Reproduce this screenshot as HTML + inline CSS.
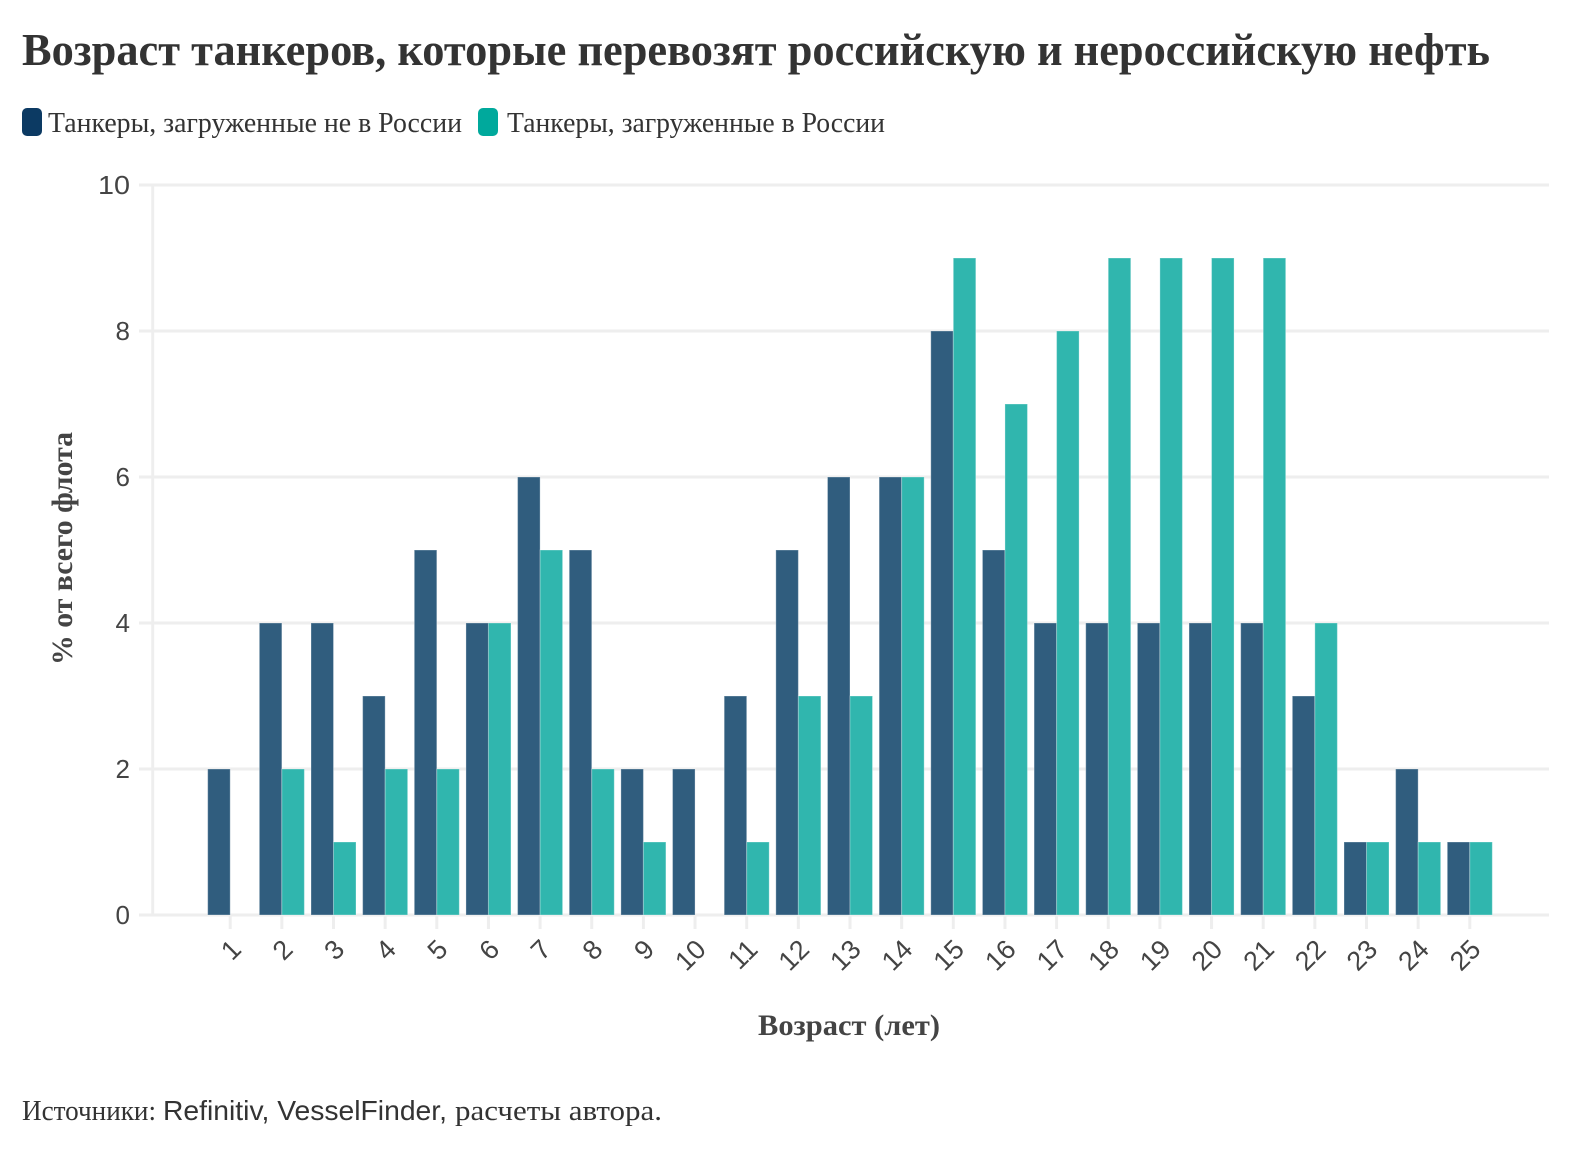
<!DOCTYPE html>
<html>
<head>
<meta charset="utf-8">
<style>
  html, body { margin: 0; padding: 0; background: #ffffff; }
  body { width: 1590px; height: 1150px; overflow: hidden; }
  svg { display: block; }
  .serif { font-family: "Liberation Serif", "Noto Serif CJK SC", serif; }
  .sans { font-family: "Liberation Sans", "DejaVu Sans", sans-serif; }
</style>
</head>
<body>
<svg width="1590" height="1150" viewBox="0 0 1590 1150" xmlns="http://www.w3.org/2000/svg">
  <rect x="0" y="0" width="1590" height="1150" fill="#ffffff"/>

  <!-- Title -->
  <text class="serif" x="22" y="65" font-size="45" font-weight="bold" fill="#333333" textLength="1468" lengthAdjust="spacingAndGlyphs">Возраст танкеров, которые перевозят российскую и нероссийскую нефть</text>

  <!-- Legend -->
  <rect x="22" y="108" width="20" height="28" rx="5" ry="5" fill="#0c3a63"/>
  <text class="serif" x="48" y="132" font-size="28" fill="#333333" textLength="414" lengthAdjust="spacingAndGlyphs">Танкеры, загруженные не в России</text>
  <rect x="478" y="108" width="20" height="28" rx="5" ry="5" fill="#00a99c"/>
  <text class="serif" x="507" y="132" font-size="28" fill="#333333" textLength="378" lengthAdjust="spacingAndGlyphs">Танкеры, загруженные в России</text>

  <!-- Gridlines -->
  <g stroke="#eeeeee" stroke-width="3">
    <line x1="139" y1="185" x2="1549" y2="185"/>
    <line x1="139" y1="331" x2="1549" y2="331"/>
    <line x1="139" y1="477" x2="1549" y2="477"/>
    <line x1="139" y1="623" x2="1549" y2="623"/>
    <line x1="139" y1="769" x2="1549" y2="769"/>
    <line x1="139" y1="915" x2="1549" y2="915"/>
    <line x1="152.7" y1="185" x2="152.7" y2="915"/>
  </g>

  <!-- Y tick labels -->
  <g class="sans" font-size="26" fill="#444444" text-anchor="end">
    <text x="130" y="194" textLength="32" lengthAdjust="spacingAndGlyphs">10</text>
    <text x="130" y="340">8</text>
    <text x="130" y="486">6</text>
    <text x="130" y="632">4</text>
    <text x="130" y="778">2</text>
    <text x="130" y="924">0</text>
  </g>

  <!-- X tick marks -->
  <g stroke="#eeeeee" stroke-width="3">
    <line x1="230.2" y1="915" x2="230.2" y2="929"/>
    <line x1="281.85" y1="915" x2="281.85" y2="929"/>
    <line x1="333.5" y1="915" x2="333.5" y2="929"/>
    <line x1="385.15" y1="915" x2="385.15" y2="929"/>
    <line x1="436.8" y1="915" x2="436.8" y2="929"/>
    <line x1="488.45" y1="915" x2="488.45" y2="929"/>
    <line x1="540.1" y1="915" x2="540.1" y2="929"/>
    <line x1="591.75" y1="915" x2="591.75" y2="929"/>
    <line x1="643.4" y1="915" x2="643.4" y2="929"/>
    <line x1="695.05" y1="915" x2="695.05" y2="929"/>
    <line x1="746.7" y1="915" x2="746.7" y2="929"/>
    <line x1="798.35" y1="915" x2="798.35" y2="929"/>
    <line x1="850" y1="915" x2="850" y2="929"/>
    <line x1="901.65" y1="915" x2="901.65" y2="929"/>
    <line x1="953.3" y1="915" x2="953.3" y2="929"/>
    <line x1="1004.95" y1="915" x2="1004.95" y2="929"/>
    <line x1="1056.6" y1="915" x2="1056.6" y2="929"/>
    <line x1="1108.25" y1="915" x2="1108.25" y2="929"/>
    <line x1="1159.9" y1="915" x2="1159.9" y2="929"/>
    <line x1="1211.55" y1="915" x2="1211.55" y2="929"/>
    <line x1="1263.2" y1="915" x2="1263.2" y2="929"/>
    <line x1="1314.85" y1="915" x2="1314.85" y2="929"/>
    <line x1="1366.5" y1="915" x2="1366.5" y2="929"/>
    <line x1="1418.15" y1="915" x2="1418.15" y2="929"/>
    <line x1="1469.8" y1="915" x2="1469.8" y2="929"/>
  </g>

  <!-- Bars: non-Russia (dark) -->
  <g fill="#305d7e" stroke="rgba(255,255,255,0.3)" stroke-width="1">
    <rect x="207.7" y="769" width="22.5" height="146"/>
    <rect x="259.35" y="623" width="22.5" height="292"/>
    <rect x="311" y="623" width="22.5" height="292"/>
    <rect x="362.65" y="696" width="22.5" height="219"/>
    <rect x="414.3" y="550" width="22.5" height="365"/>
    <rect x="465.95" y="623" width="22.5" height="292"/>
    <rect x="517.6" y="477" width="22.5" height="438"/>
    <rect x="569.25" y="550" width="22.5" height="365"/>
    <rect x="620.9" y="769" width="22.5" height="146"/>
    <rect x="672.55" y="769" width="22.5" height="146"/>
    <rect x="724.2" y="696" width="22.5" height="219"/>
    <rect x="775.85" y="550" width="22.5" height="365"/>
    <rect x="827.5" y="477" width="22.5" height="438"/>
    <rect x="879.15" y="477" width="22.5" height="438"/>
    <rect x="930.8" y="331" width="22.5" height="584"/>
    <rect x="982.45" y="550" width="22.5" height="365"/>
    <rect x="1034.1" y="623" width="22.5" height="292"/>
    <rect x="1085.75" y="623" width="22.5" height="292"/>
    <rect x="1137.4" y="623" width="22.5" height="292"/>
    <rect x="1189.05" y="623" width="22.5" height="292"/>
    <rect x="1240.7" y="623" width="22.5" height="292"/>
    <rect x="1292.35" y="696" width="22.5" height="219"/>
    <rect x="1344" y="842" width="22.5" height="73"/>
    <rect x="1395.65" y="769" width="22.5" height="146"/>
    <rect x="1447.3" y="842" width="22.5" height="73"/>
  </g>

  <!-- Bars: Russia (teal) -->
  <g fill="#30b6ae" stroke="rgba(255,255,255,0.3)" stroke-width="1">
    <rect x="281.85" y="769" width="22.5" height="146"/>
    <rect x="333.5" y="842" width="22.5" height="73"/>
    <rect x="385.15" y="769" width="22.5" height="146"/>
    <rect x="436.8" y="769" width="22.5" height="146"/>
    <rect x="488.45" y="623" width="22.5" height="292"/>
    <rect x="540.1" y="550" width="22.5" height="365"/>
    <rect x="591.75" y="769" width="22.5" height="146"/>
    <rect x="643.4" y="842" width="22.5" height="73"/>
    <rect x="746.7" y="842" width="22.5" height="73"/>
    <rect x="798.35" y="696" width="22.5" height="219"/>
    <rect x="850" y="696" width="22.5" height="219"/>
    <rect x="901.65" y="477" width="22.5" height="438"/>
    <rect x="953.3" y="258" width="22.5" height="657"/>
    <rect x="1004.95" y="404" width="22.5" height="511"/>
    <rect x="1056.6" y="331" width="22.5" height="584"/>
    <rect x="1108.25" y="258" width="22.5" height="657"/>
    <rect x="1159.9" y="258" width="22.5" height="657"/>
    <rect x="1211.55" y="258" width="22.5" height="657"/>
    <rect x="1263.2" y="258" width="22.5" height="657"/>
    <rect x="1314.85" y="623" width="22.5" height="292"/>
    <rect x="1366.5" y="842" width="22.5" height="73"/>
    <rect x="1418.15" y="842" width="22.5" height="73"/>
    <rect x="1469.8" y="842" width="22.5" height="73"/>
  </g>

  <!-- X tick labels (rotated) -->
  <g class="sans" font-size="27" fill="#444444" text-anchor="end">
    <text transform="translate(242.7,951) rotate(-45)">1</text>
    <text transform="translate(294.35,951) rotate(-45)">2</text>
    <text transform="translate(346,951) rotate(-45)">3</text>
    <text transform="translate(397.65,951) rotate(-45)">4</text>
    <text transform="translate(449.3,951) rotate(-45)">5</text>
    <text transform="translate(500.95,951) rotate(-45)">6</text>
    <text transform="translate(552.6,951) rotate(-45)">7</text>
    <text transform="translate(604.25,951) rotate(-45)">8</text>
    <text transform="translate(655.9,951) rotate(-45)">9</text>
    <text transform="translate(707.55,951) rotate(-45)">10</text>
    <text transform="translate(759.2,951) rotate(-45)">11</text>
    <text transform="translate(810.85,951) rotate(-45)">12</text>
    <text transform="translate(862.5,951) rotate(-45)">13</text>
    <text transform="translate(914.15,951) rotate(-45)">14</text>
    <text transform="translate(965.8,951) rotate(-45)">15</text>
    <text transform="translate(1017.45,951) rotate(-45)">16</text>
    <text transform="translate(1069.1,951) rotate(-45)">17</text>
    <text transform="translate(1120.75,951) rotate(-45)">18</text>
    <text transform="translate(1172.4,951) rotate(-45)">19</text>
    <text transform="translate(1224.05,951) rotate(-45)">20</text>
    <text transform="translate(1275.7,951) rotate(-45)">21</text>
    <text transform="translate(1327.35,951) rotate(-45)">22</text>
    <text transform="translate(1379,951) rotate(-45)">23</text>
    <text transform="translate(1430.65,951) rotate(-45)">24</text>
    <text transform="translate(1482.3,951) rotate(-45)">25</text>
  </g>

  <!-- Axis titles -->
  <text class="serif" x="849" y="1035" font-size="30" font-weight="bold" fill="#444444" text-anchor="middle" textLength="182" lengthAdjust="spacingAndGlyphs">Возраст (лет)</text>
  <text class="serif" transform="translate(72,548.5) rotate(-90)" font-size="30" font-weight="bold" fill="#444444" text-anchor="middle" textLength="233" lengthAdjust="spacingAndGlyphs">% от всего флота</text>

  <!-- Source -->
  <text class="serif" x="22" y="1120" font-size="29" fill="#333333" textLength="134" lengthAdjust="spacingAndGlyphs">Источники:</text>
  <text class="sans" x="163" y="1120" font-size="28" fill="#333333" textLength="284" lengthAdjust="spacingAndGlyphs">Refinitiv, VesselFinder,</text>
  <text class="serif" x="455" y="1120" font-size="29" fill="#333333" textLength="207" lengthAdjust="spacingAndGlyphs">расчеты автора.</text>
</svg>
</body>
</html>
